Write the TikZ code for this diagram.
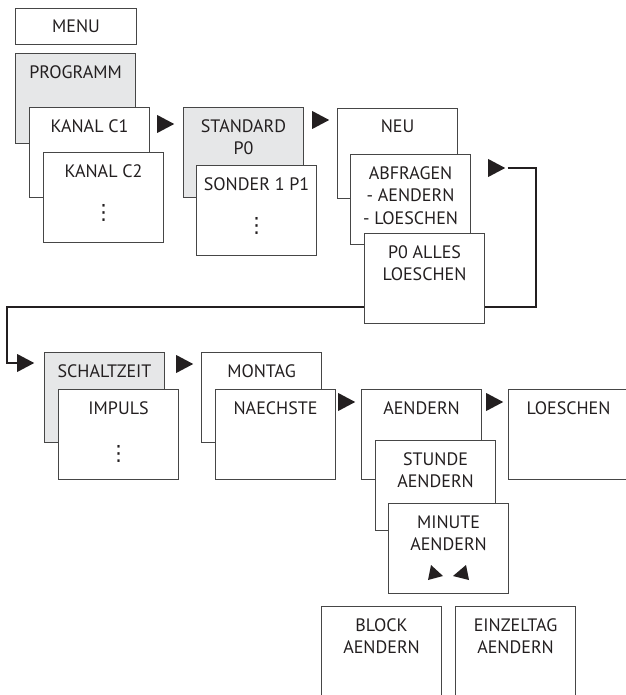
\documentclass[tikz,border=0pt]{standalone}
\usepackage{fontspec}
\setmainfont{PT Sans}
\newfontfamily\dotsfont{DejaVu Sans}
\usetikzlibrary{shapes.geometric}
\definecolor{panelgray}{RGB}{230,231,232}
\definecolor{boxline}{RGB}{70,70,70}
\definecolor{inkblack}{RGB}{35,31,32}
\newcommand{\menudots}{{\dotsfont\fontsize{21}{22.5}\selectfont ⋮}}

\begin{document}
\begin{tikzpicture}[x=1pt,y=-1pt,
  menubox/.style={draw=boxline, line width=1.1pt, fill=white, minimum width=120pt,
    minimum height=90pt, anchor=north west, inner sep=0pt},
  shaded/.style={menubox, fill=panelgray},
  boxtext/.style={anchor=north, yshift=-12pt, inner sep=0pt, align=center,
    text=inkblack, font=\fontsize{18}{22.5}\selectfont},
  pointer/.style={isosceles triangle, isosceles triangle stretches, fill=inkblack,
    inner sep=0pt, minimum width=18pt, minimum height=17pt, anchor=west},
  link/.style={line width=2.3pt, draw=inkblack}]

  \useasboundingbox (0,0) rectangle (625,695);

  % pointers between the menu levels
  \node[pointer] (p1) at (157,124) {};
  \node[pointer] (p2) at (312,120) {};
  \node[pointer] (p3) at (488,168) {};
  \node[pointer] (p4) at (17,363) {};
  \node[pointer] (p5) at (176,364) {};
  \node[pointer] (p6) at (338,402) {};
  \node[pointer] (p7) at (486,402) {};

  % return line, behind the boxes
  \draw[link] ([xshift=2pt]p3.east) -| (536,307) -- (7,307) |- (p4.west);

  % first row
  \node[menubox, minimum width=121pt, minimum height=36pt,
    label={[boxtext]north:MENU}] (menu) at (15,8) {};
  \node[shaded, label={[boxtext]north:PROGRAMM}] (programm) at (15,53) {};
  \node[menubox, label={[boxtext]north:KANAL C1}] (kanal1) at (29,107) {};
  \node[menubox, label={[boxtext]north:KANAL C2\\[20pt]\menudots}] (kanal2) at (43,152) {};

  \node[shaded, label={[boxtext]north:STANDARD\\P0}] (standard) at (183,107) {};
  \node[menubox, label={[boxtext]north:SONDER 1 P1\\[20pt]\menudots}] (sonder) at (196,165) {};

  \node[menubox, label={[boxtext]north:NEU}] (neu) at (337,108) {};
  \node[menubox, label={[boxtext]north:ABFRAGEN\\- AENDERN\\- LOESCHEN}] (abfragen) at (350,154) {};
  \node[menubox, label={[boxtext]north:P0 ALLES\\LOESCHEN}] (alles) at (364,233) {};

  % second row
  \node[shaded, label={[boxtext]north:SCHALTZEIT}] (schaltzeit) at (44,352) {};
  \node[menubox, label={[boxtext]north:IMPULS\\[24pt]\menudots}] (impuls) at (58,389) {};

  \node[menubox, label={[boxtext]north:MONTAG}] (montag) at (201,352) {};
  \node[menubox, label={[boxtext]north:NAECHSTE}] (naechste) at (215,389) {};

  \node[menubox, label={[boxtext]north:AENDERN}] (aendern) at (361,389) {};
  \node[menubox, minimum width=130pt, label={[boxtext, xshift=-5pt]north:LOESCHEN}] (loeschen) at (508,389) {};
  \node[menubox, label={[boxtext]north:STUNDE\\AENDERN}] (stunde) at (375,440) {};
  \node[menubox, label={[boxtext]north:MINUTE\\AENDERN}] (minute) at (388,503) {};
  \fill[inkblack] (431,565) -- (443,576) -- (428,580) -- cycle;
  \fill[inkblack] (466,565) -- (469,580) -- (453,576) -- cycle;

  % third row
  \node[menubox, minimum height=100pt, label={[boxtext]north:BLOCK\\AENDERN}] (block) at (321,606) {};
  \node[menubox, minimum height=100pt, label={[boxtext]north:EINZELTAG\\AENDERN}] (einzeltag) at (455,606) {};
\end{tikzpicture}
\end{document}
